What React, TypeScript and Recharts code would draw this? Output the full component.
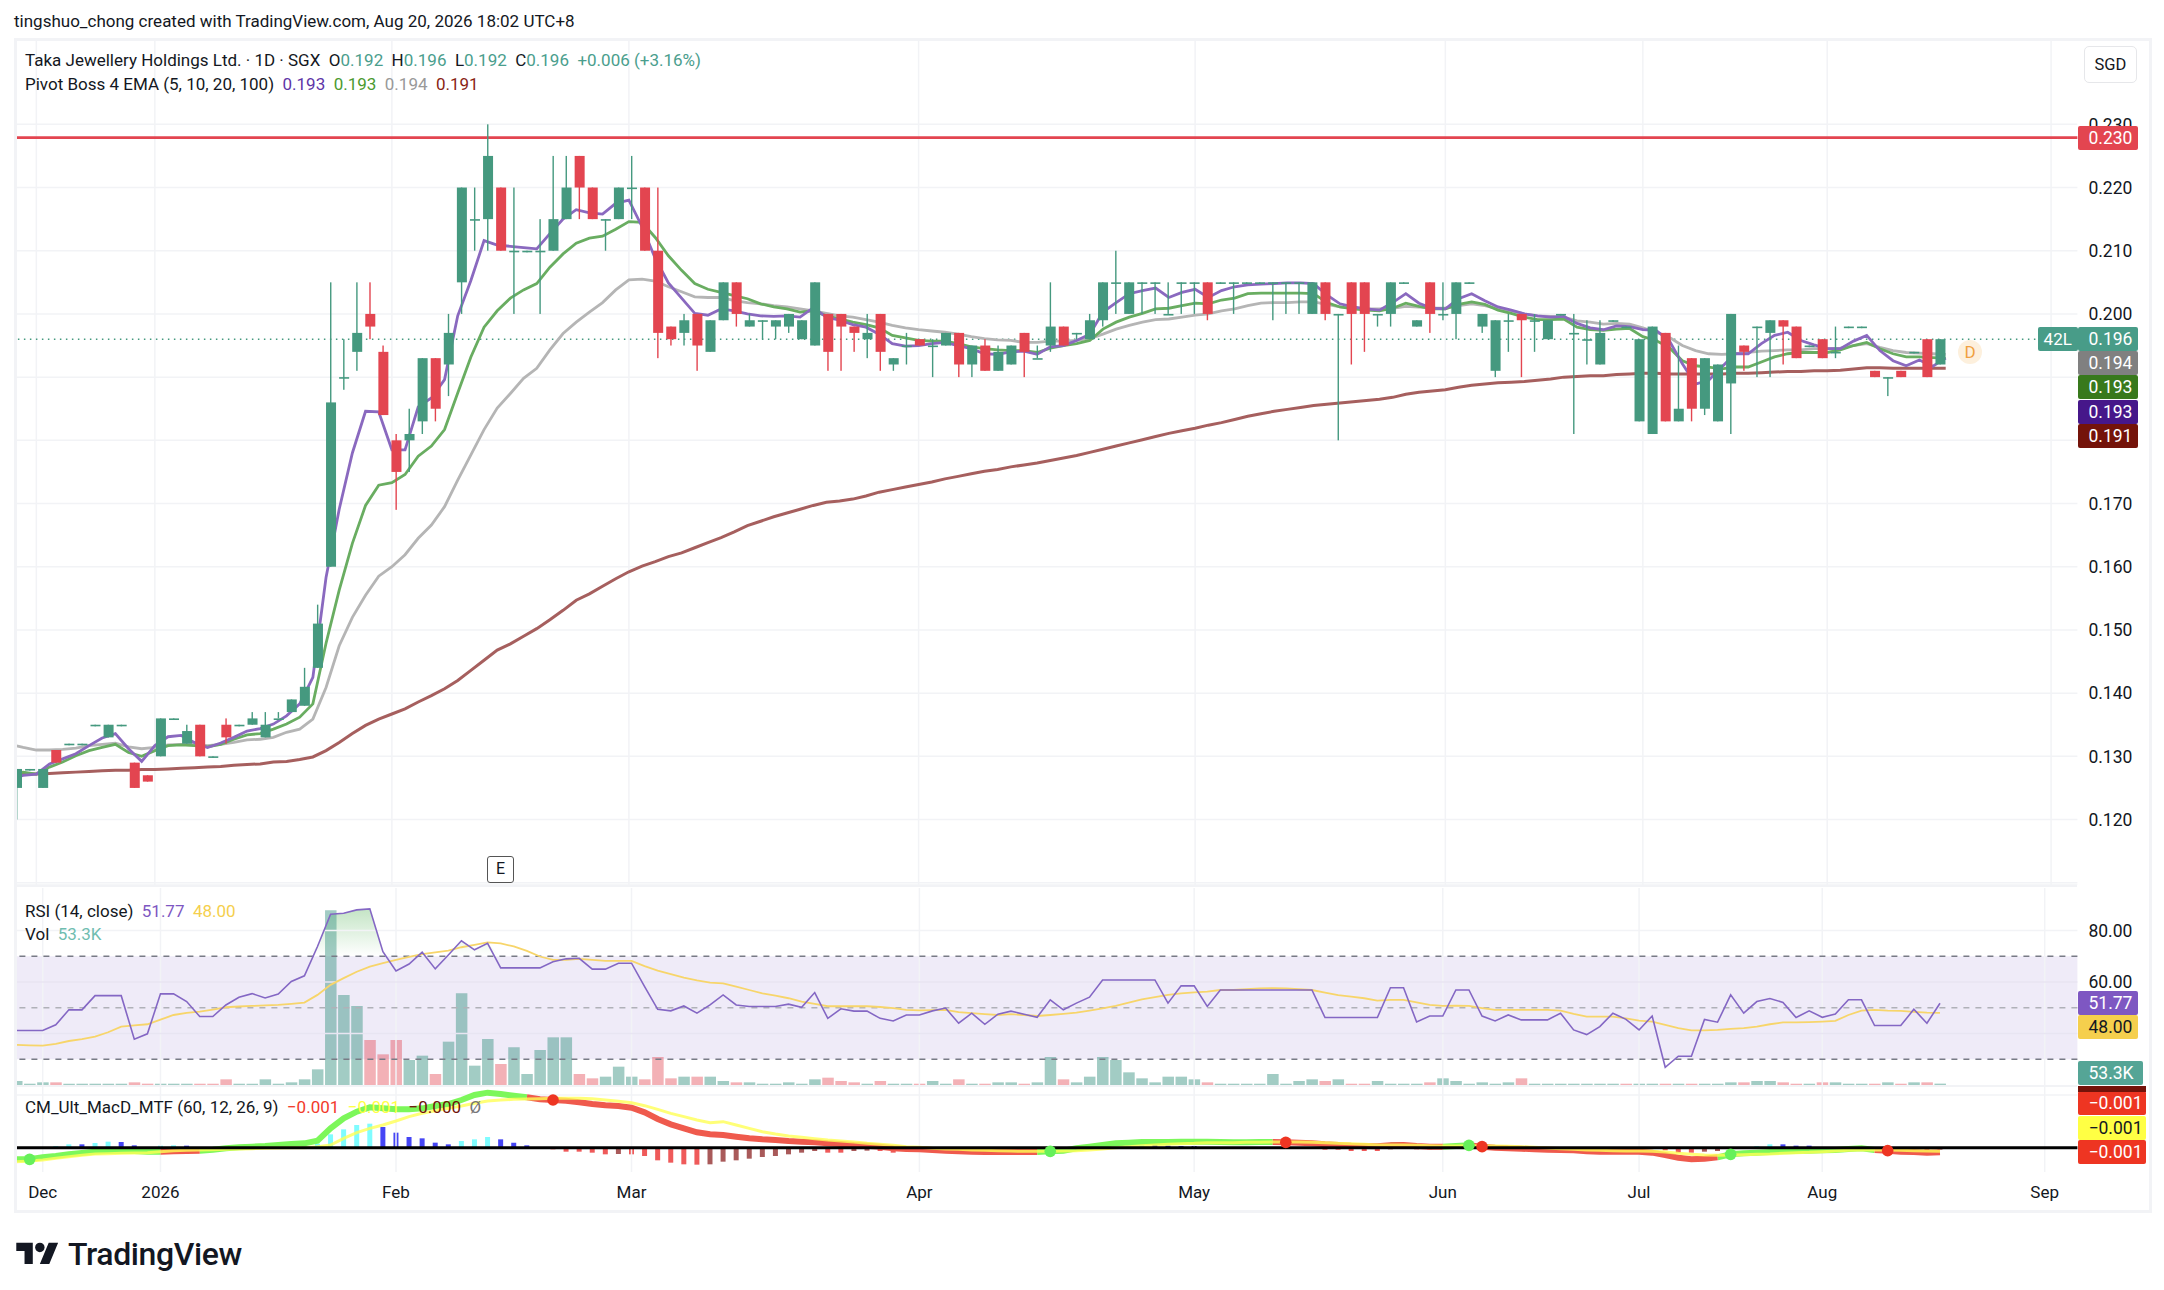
import React from 'react';
import {
  Area,
  Bar,
  CartesianGrid,
  Cell,
  ComposedChart,
  Line,
  ReferenceArea,
  ReferenceLine,
  XAxis,
  YAxis,
} from 'recharts';

// daily candles
const opens = [.125,.128,.125,.131,.132,.132,.135,.133,.135,.129,.127,.130,.136,.132,.135,.130,.135,.135,.135,.133,.136,.137,.138,.144,.160,.190,.194,.200,.194,.180,.180,.183,.193,.192,.205,.215,.215,.220,.210,.210,.210,.210,.215,.225,.220,.215,.215,.220,.220,.210,.198,.197,.200,.194,.199,.205,.198,.199,.198,.198,.196,.195,.200,.200,.198,.196,.200,.192,.195,.196,.195,.195,.197,.192,.195,.191,.192,.197,.193,.195,.198,.197,.196,.199,.205,.200,.205,.205,.200,.205,.205,.205,.205,.205,.205,.205,.205,.205,.205,.200,.205,.200,.205,.205,.200,.200,.205,.198,.205,.200,.200,.205,.198,.191,.199,.200,.199,.196,.200,.197,.196,.192,.199,.198,.183,.181,.197,.183,.193,.185,.183,.189,.195,.198,.197,.199,.198,.195,.196,.194,.198,.198,.191,.190,.191,.194,.196,.192];
const highs = [.128,.128,.128,.131,.132,.132,.135,.135,.135,.129,.127,.136,.136,.135,.135,.130,.136,.135,.137,.137,.137,.139,.144,.154,.205,.196,.205,.205,.195,.181,.185,.193,.193,.200,.220,.220,.230,.220,.220,.210,.215,.225,.225,.225,.220,.215,.220,.225,.220,.220,.198,.200,.200,.199,.205,.205,.200,.199,.199,.200,.199,.205,.200,.200,.198,.200,.200,.193,.197,.196,.196,.197,.197,.195,.196,.195,.195,.197,.195,.205,.198,.197,.200,.205,.210,.205,.205,.205,.205,.205,.205,.205,.205,.205,.205,.205,.205,.205,.205,.205,.205,.200,.205,.205,.200,.205,.205,.199,.205,.205,.205,.205,.200,.199,.200,.200,.200,.199,.200,.200,.199,.199,.199,.198,.196,.198,.197,.195,.193,.193,.192,.200,.195,.198,.199,.199,.198,.195,.196,.198,.198,.198,.191,.190,.191,.194,.196,.196];
const lows = [.120,.128,.125,.129,.132,.132,.135,.133,.135,.125,.126,.130,.136,.132,.130,.130,.132,.135,.135,.133,.136,.137,.138,.144,.160,.188,.191,.196,.184,.169,.175,.181,.183,.187,.200,.210,.210,.210,.200,.210,.200,.210,.215,.215,.215,.210,.215,.215,.210,.193,.195,.195,.191,.194,.199,.198,.198,.196,.196,.197,.196,.195,.191,.191,.194,.193,.191,.191,.192,.195,.190,.195,.190,.190,.191,.191,.192,.190,.193,.194,.195,.196,.196,.198,.200,.200,.200,.200,.200,.200,.200,.199,.205,.200,.205,.205,.199,.200,.200,.200,.199,.180,.192,.194,.198,.198,.205,.198,.197,.199,.196,.205,.197,.190,.194,.190,.194,.196,.200,.181,.192,.192,.199,.198,.183,.181,.183,.183,.183,.184,.183,.181,.191,.190,.190,.192,.193,.195,.193,.193,.198,.198,.190,.187,.190,.194,.190,.192];
const closes = [.128,.128,.128,.129,.132,.132,.135,.135,.135,.125,.126,.136,.136,.134,.130,.130,.133,.135,.136,.135,.136,.139,.141,.151,.186,.190,.197,.198,.184,.175,.181,.193,.185,.197,.220,.215,.225,.210,.210,.210,.210,.215,.220,.220,.215,.215,.220,.220,.210,.197,.196,.199,.195,.199,.205,.200,.199,.199,.199,.200,.199,.205,.194,.198,.197,.197,.194,.193,.195,.195,.195,.197,.192,.195,.191,.194,.195,.194,.193,.198,.195,.197,.199,.205,.205,.205,.205,.205,.200,.205,.205,.200,.205,.205,.205,.205,.205,.205,.205,.205,.200,.200,.200,.200,.200,.205,.205,.199,.200,.200,.205,.205,.200,.199,.199,.199,.199,.199,.200,.197,.196,.197,.199,.198,.196,.198,.183,.185,.185,.193,.192,.200,.194,.198,.199,.198,.193,.195,.193,.194,.198,.198,.190,.190,.190,.194,.190,.196];

const ema5 = [.1264,.127,.1272,.1288,.1296,.1304,.1317,.1329,.1336,.1312,.1292,.1317,.1331,.1333,.1322,.1314,.1321,.133,.134,.1344,.1351,.1364,.1383,.1425,.1583,.1691,.178,.1846,.1845,.1785,.1785,.1853,.1867,.1896,.1997,.2053,.2116,.2109,.2107,.2105,.2103,.2127,.215,.2165,.216,.2158,.2175,.218,.2138,.2088,.2049,.2025,.2001,.1998,.2008,.2005,.2,.1997,.1996,.1997,.1995,.201,.1995,.199,.1983,.1979,.1968,.1953,.1949,.195,.1953,.1955,.195,.1945,.1937,.1936,.194,.1941,.1936,.1948,.195,.1958,.1968,.2003,.2018,.2032,.2037,.2041,.2026,.2034,.2039,.2026,.2037,.2043,.2046,.2047,.2048,.2049,.2049,.2048,.203,.2016,.2011,.2008,.2006,.2018,.2032,.2017,.2009,.2008,.2024,.2032,.2021,.2011,.2006,.2,.1997,.1995,.1996,.1985,.1978,.1975,.1981,.198,.1975,.1974,.1958,.1921,.1889,.1895,.1916,.1937,.1937,.1953,.1966,.1971,.1958,.1951,.1945,.1945,.1957,.1966,.1942,.1926,.1918,.1927,.1917,.193];
const ema10 = [.1272,.1275,.1272,.1283,.1291,.1301,.1309,.1314,.1319,.1306,.13,.1309,.1317,.1318,.1317,.1315,.1319,.1327,.1334,.1336,.1343,.1351,.1362,.1383,.1479,.1563,.1637,.1697,.1729,.1733,.1746,.1775,.1791,.1817,.1875,.1932,.1979,.2005,.2025,.2038,.2048,.2074,.2095,.2112,.212,.2123,.2134,.2146,.2145,.2121,.2092,.2069,.2048,.2039,.2034,.2029,.2024,.2016,.2011,.2008,.2003,.2005,.1997,.1992,.1987,.1983,.1978,.1966,.1962,.1958,.1957,.1957,.1953,.1948,.1945,.1943,.1942,.1942,.1939,.1946,.195,.1953,.1958,.1976,.1987,.1995,.2001,.2008,.2009,.2013,.2017,.2016,.2022,.2025,.2032,.2033,.2033,.2033,.2033,.2032,.2018,.2011,.2008,.2006,.2005,.2009,.2017,.2012,.2008,.2008,.2015,.2019,.2015,.2006,.2001,.1995,.1991,.1991,.1992,.1979,.1975,.1974,.1976,.1977,.1964,.1958,.1947,.1926,.1918,.1916,.1913,.1916,.1916,.1924,.1932,.1937,.1939,.1939,.1939,.1943,.195,.1955,.1945,.1937,.1932,.1932,.1931,.193];
const ema20 = [.1319,.1314,.131,.131,.1311,.1313,.1317,.1319,.1321,.1315,.1312,.1314,.1318,.1319,.1319,.1317,.1319,.1322,.1326,.1327,.133,.1338,.1343,.1359,.1409,.1475,.152,.1555,.1585,.16,.1619,.1645,.1666,.1695,.1737,.1777,.1817,.1851,.1874,.1898,.1914,.1943,.1969,.1987,.2003,.2018,.2038,.2054,.2055,.2052,.2043,.2035,.2027,.2026,.2026,.2021,.2018,.2016,.2013,.2011,.2008,.2005,.2001,.1997,.1995,.1991,.1987,.1982,.1978,.1975,.1973,.1971,.1968,.1964,.1961,.1959,.1958,.1955,.1955,.1957,.1957,.1958,.1961,.1968,.1976,.1982,.1987,.1991,.1992,.1995,.1998,.2,.2005,.2008,.2013,.2017,.2018,.2018,.2019,.2019,.2015,.2011,.2009,.2008,.2008,.2009,.2012,.2011,.2009,.2009,.2013,.2016,.2013,.2008,.2005,.2,.1997,.1996,.1995,.1989,.1987,.1984,.1985,.1984,.1978,.1971,.1963,.195,.1942,.1937,.1936,.1937,.1939,.1941,.1942,.1943,.1943,.1945,.1945,.1946,.195,.1953,.1947,.1942,.1939,.1938,.1937,.1936];
const ema100 = [.1272,.1272,.1272,.1273,.1274,.1275,.1276,.1277,.1278,.1278,.1279,.1279,.128,.1281,.1282,.1283,.1284,.1286,.1287,.1288,.1291,.1292,.1295,.1299,.1309,.1322,.1336,.1349,.1359,.1367,.1375,.1386,.1396,.1407,.142,.1436,.1452,.1468,.1478,.149,.1502,.1516,.1531,.1547,.1557,.1569,.1581,.1592,.1601,.1608,.1616,.1622,.163,.1638,.1646,.1655,.1665,.1672,.1679,.1685,.1691,.1697,.1702,.1704,.1707,.1712,.1718,.1722,.1726,.173,.1734,.1739,.1743,.1747,.1751,.1754,.1758,.1761,.1764,.1768,.1772,.1776,.1781,.1786,.1791,.1796,.1801,.1806,.1811,.1815,.1819,.1824,.1828,.1833,.1838,.1842,.1846,.1849,.1852,.1855,.1857,.1859,.1861,.1863,.1865,.1868,.1873,.1876,.1878,.188,.1884,.1887,.1889,.1891,.1892,.1893,.1895,.1897,.19,.1901,.1902,.1902,.1904,.1905,.1906,.1906,.1905,.1905,.1905,.1905,.1905,.1906,.1906,.1907,.1908,.1909,.1909,.191,.191,.1911,.1913,.1915,.1915,.1914,.1914,.1914,.1914,.1914];

const rsi = [41.2,41.2,41.2,43.4,49.2,49.2,54.7,54.7,54.7,37.8,39.9,55.4,55.4,52.4,46.6,46.6,51.1,54.1,55.5,53.8,55.3,60.2,62.4,73.8,86.3,86.7,88,88.4,71.8,64.3,67,71.6,65.1,70.5,76,72.5,75,65.5,65.5,65.5,65.5,67.9,69,69.2,65,65,67.3,67.3,58.2,49.4,48.8,50.7,47.9,51.1,55,51.1,50.5,50.5,50.5,51.4,50.2,55.9,45.9,49.6,48.7,48.7,45.9,44.9,47.2,47.2,48.8,49.9,44,47.9,43.6,47.5,48.7,47.5,46.3,53.1,49.2,51.8,54.1,60.8,60.8,60.8,60.8,60.8,51.8,58.5,58.5,50.5,56.9,56.9,56.9,56.9,56.9,56.9,56.9,56.9,46.2,46.2,46.2,46.2,46.2,57.8,57.8,44.5,46.8,46.8,56.9,56.9,46.8,44.9,47.2,45.3,45.3,45.3,47.9,41.4,39.6,42.7,47.9,45.5,41.4,46.8,26.9,31.2,31.2,45.5,44.4,55,47.9,52.4,53.6,52.1,46.2,48.8,46.3,47.6,53.1,53.1,43.1,43.1,43.1,49.4,44,51.77];
const rsiMa = [35.6,35.4,35.3,36,37.1,37.8,38.8,40.5,42.7,43.2,43.6,45.4,47.2,48,48.5,49.3,50.2,50.5,50.7,50.9,51.1,51.5,52,55,58.9,61.5,64,66,67.3,68.6,69.8,70.8,71.5,72.2,73.5,74.4,75.4,75,73.8,72.1,69.9,68.6,68.6,69,68.6,68.2,68.2,68.2,66.2,64.4,63.1,61.7,60.6,59.8,59.5,58.2,56.9,55.6,54.7,53.7,52.4,51.5,50.6,50.6,50.6,50.6,50.3,49.9,49.2,49,49.1,49.2,48.3,47.9,47.5,47.2,47.5,47.2,46.8,47.2,47.6,48.1,48.9,49.8,50.7,52,53.3,54.1,55,55.6,56,56.3,56.9,56.9,57.2,57.5,57.6,57.5,57.2,56.9,55.9,54.9,54.3,53.7,52.8,53.1,53.1,52.1,51.1,50.7,50.8,50.7,49.9,49.2,49.2,49.2,49.2,49.2,48.9,47.6,46.6,46.6,46.6,45.9,45,44.6,43.4,42.1,41.2,41.2,41.4,41.8,42.1,42.7,43.6,44.3,44.3,44.4,44.6,44.9,47.2,48.9,49.2,48.9,48.8,48.4,48.1,48];

// volume in thousands
const volume = [156,50,104,104,50,50,50,50,50,104,52,50,50,50,50,50,221,50,50,221,50,104,221,611,6812,3510,3081,1755,1196,1755,975,1144,429,1690,3575,754,1794,819,1469,429,1365,1859,1859,429,260,325,715,325,221,1092,260,325,325,325,156,104,104,50,50,104,50,221,286,156,104,50,156,50,50,50,156,50,221,50,50,104,104,50,104,1092,221,104,325,1092,975,494,260,104,325,325,221,104,50,50,50,50,429,50,156,221,156,221,50,50,156,50,50,50,104,260,156,50,104,50,104,260,50,50,50,50,50,50,50,50,50,50,50,50,50,50,50,104,104,156,156,104,50,50,104,104,50,50,50,104,50,104,104,53.3];
const volumeDownBars = [3,9,10,14,15,16,27,28,29,32,37,43,44,48,49,50,52,55,62,63,64,66,69,72,74,77,80,91,100,102,103,108,115,123,126,128,132,135,136,138,142,144,146];

// MACD values in units of 0.0001
const macdLine = [-17.5,-17.5,-14.5,-12.5,-10,-8,-6,-5,-4.5,-5,-6,-6,-5.5,-5,-4.5,-3,-1,.5,1.5,2.5,4,5.5,6.5,10.5,29,44,54,60.5,59,57.5,57.5,59,62.5,65.5,71.5,79,82.5,80.5,78,75.5,72.5,71.5,70.5,68,65.5,63.5,62.5,60,53,43,35,29,23,20,19,16.5,14,12.5,11.5,10,9,8,6.5,5.5,4,3,1.5,-1,-2,-2.5,-3.5,-4.5,-5.5,-6,-6.5,-6.5,-6.5,-6.5,-6.5,-5.5,-4.5,-1,1.5,4,6.5,7.5,8.5,8.5,8.5,9,9,9,8.5,8,8,8.5,8.5,8,7.5,6.5,5,4,3,2.5,2,3.5,4,2.5,1.5,1.5,2.5,3.5,1.5,0,-1,-1.5,-2.5,-3,-3.5,-4,-5.5,-6,-6,-6,-6,-7.5,-11,-15,-17.5,-16.5,-14.5,-10,-8.5,-7.5,-6.5,-5.5,-5,-4.5,-4,-3.5,-2,-1,-3.5,-4.5,-6,-6.5,-7.5,-7];
const signalLine = [-21,-20,-18.5,-16,-13.5,-11.5,-9.5,-9,-8.5,-8,-7.5,-6,-4.5,-4,-3.5,-3,-2.5,-2,-1.5,-1,-.5,0,0,1.5,4,14,22.5,29,34,40,46.5,51.5,55.5,59,62.5,66.5,70,71.5,72.5,73,73.5,74,74,74,73.5,71.5,69.5,67.5,63,57.5,51.5,46.5,41.5,37.5,39,34,29,24,20.5,17.5,15.5,13.5,11.5,10,8.5,6.5,5,3.5,1.5,.5,-1,-2,-2.5,-3.5,-4,-4.5,-5,-5.5,-5.5,-5.5,-5,-4.5,-3.5,-2,0,1.5,3,4,5,6,6.5,7.5,7.5,7.5,8,8,8.5,8.5,8.5,8,7.5,6.5,6,5,4,4,4,3.5,3,2.5,2.5,3,3,2.5,2,1.5,.5,-.5,-1.5,-2.5,-3.5,-4,-4.5,-5,-5,-5.5,-6.5,-8.5,-10,-11,-11.5,-11,-10.5,-10,-9.5,-8.5,-7.5,-7,-6,-5,-4,-3.5,-3.5,-3.5,-4,-4.5,-5,-5.5];
const macdHist = [-2,0,0,2.5,5,5,7,9,8.5,3.5,0,3,3.5,3,0,0,0,0,0,3,0,0,2.5,6,20,27.5,34,36,31,22.5,16,14,7.5,5,10,12.5,16,12.5,7.5,3.5,0,-2.5,-6,-6,-7.5,-10,-9.5,-10,-12.5,-19,-22.5,-25,-25.5,-25,-21,-19,-16.5,-14,-12.5,-10,-7.5,-5,-7.5,-7.5,-5,-4.5,-5,-7.5,-5,-4.5,-3,-3,-2.5,-2.5,-2,-2,-1.5,-1,-1,0,0,0,0,1,2.5,4,5.5,5,3,2.5,2.5,0,0,0,0,0,0,0,0,0,-3,-3,-5,-5,-5,-2.5,0,-2.5,-2.5,-2,0,0,0,0,0,0,0,-5,-4,0,-5,-4,-3.5,0,0,0,-4,-7.5,-7.5,-6,-5,0,0,2.5,5,5,3,3,0,0,0,0,0,0,0,-2,-4,-3];
const crossUpBars = [1, 79, 111, 131];
const crossDownBars = [41, 97, 112, 143];

const priceTicks = [0.12, 0.13, 0.14, 0.15, 0.16, 0.17, 0.2, 0.21, 0.22, 0.23];
const hiddenPriceGrid = [0.11, 0.18, 0.19];
const rsiTicks = [80, 60];
const resistance = 0.2279;
const lastClose = 0.196;

const monthLabels = ['Dec', '2026', 'Feb', 'Mar', 'Apr', 'May', 'Jun', 'Jul', 'Aug', 'Sep'];
const monthBars = [2, 11, 29, 47, 69, 90, 109, 124, 138, 155];

const UP = '#45997f';
const DOWN = '#e34550';
const TEXT = '#131722';
const GRID = '#f2f3f6';
const SLOTS = 158; // bars plus the empty space to the right
const CHART_W = 2152;
const AXIS_W = 74.6;
const FONT = 'Roboto, sans-serif';
const TICK = { fill: TEXT, fontSize: 17.5 };

const rows = Array.from({ length: SLOTS }, (_, i) => {
  if (i >= opens.length) return { i };
  const up = macdLine[i] >= signalLine[i];
  const nextUp = i + 1 < macdLine.length ? macdLine[i + 1] >= signalLine[i + 1] : up;
  return {
    i,
    up: closes[i] >= opens[i],
    wick: [lows[i], highs[i]],
    body: [Math.min(opens[i], closes[i]), Math.max(opens[i], closes[i])],
    ema5: ema5[i],
    ema10: ema10[i],
    ema20: ema20[i],
    ema100: ema100[i],
    rsi: rsi[i],
    rsiMa: rsiMa[i],
    rsiHot: [70, Math.max(70, rsi[i])],
    volume: volume[i],
    macdUp: up || nextUp ? macdLine[i] : null,
    macdDown: !up || !nextUp ? macdLine[i] : null,
    signal: signalLine[i],
    hist: macdHist[i] === 0 ? null : macdHist[i],
    crossUp: crossUpBars.includes(i) ? macdLine[i] : null,
    crossDown: crossDownBars.includes(i) ? macdLine[i] : null,
  };
});

const priceBadges = [
  { text: '0.230', y: 138, bg: '#e34550', color: '#fff' },
  { text: '0.196', y: 339, bg: '#489c88', color: '#fff' },
  { text: '0.194', y: 363, bg: '#808080', color: '#fff' },
  { text: '0.193', y: 387, bg: '#38791c', color: '#fff' },
  { text: '0.193', y: 411.5, bg: '#46178a', color: '#fff' },
  { text: '0.191', y: 435.5, bg: '#74130a', color: '#fff' },
  { text: '51.77', y: 1003, bg: '#7e57c2', color: '#fff' },
  { text: '48.00', y: 1027, bg: '#f5cf4d', color: TEXT },
];
const lowerBadges = [
  { text: '53.3K', y: 1073, bg: '#55a596', color: '#fff', w: 65 },
  { text: '−0.001', y: 1103, bg: '#ee3522', color: '#fff', w: 68 },
  { text: '−0.001', y: 1127.5, bg: '#ffff44', color: TEXT, w: 68 },
  { text: '−0.001', y: 1151.5, bg: '#ee3522', color: '#fff', w: 68 },
];

const CandleRect = (props: any) => {
  const { x, y, width, height, payload } = props;
  return (
    <rect
      x={x}
      y={y}
      width={width}
      height={Math.max(height, 1.6)}
      fill={payload.up ? UP : DOWN}
    />
  );
};

const MonthLines = (xAxisId: string) =>
  monthBars.map((m) => (
    <ReferenceLine key={m} xAxisId={xAxisId} yAxisId="y" x={m} stroke={GRID} strokeWidth={1.5} />
  ));

const Badge = ({ text, y, bg, color, w = 60 }: any) => (
  <div
    style={{
      position: 'absolute',
      left: 2077.5,
      top: y - 12,
      width: w,
      height: 24,
      lineHeight: '24px',
      background: bg,
      color,
      fontSize: 17.5,
      paddingLeft: 11,
      boxSizing: 'border-box',
      borderRadius: 2,
    }}
  >
    {text}
  </div>
);

const TextLine = ({ top, children }: any) => (
  <div
    style={{
      position: 'absolute',
      left: 25,
      top: top - 10,
      height: 20,
      lineHeight: '20px',
      fontSize: 17,
      color: TEXT,
      whiteSpace: 'nowrap',
    }}
  >
    {children}
  </div>
);

const paneStyle = (top: number): React.CSSProperties => ({ position: 'absolute', left: 0, top });

const App = () => {
  return (
    <div
      style={{
        position: 'absolute',
        left: 0,
        top: 0,
        width: 2164,
        height: 1290,
        background: '#fff',
        fontFamily: FONT,
        overflow: 'hidden',
      }}
    >
      <div style={{ position: 'absolute', left: 14, top: 11, fontSize: 17, color: TEXT, whiteSpace: 'nowrap' }}>
        tingshuo_chong created with TradingView.com, Aug 20, 2026 18:02 UTC+8
      </div>

      {/* price pane: grid and moving averages */}
      <div style={paneStyle(38)}>
        <ComposedChart
          width={CHART_W}
          height={847}
          data={rows}
          margin={{ top: 0, right: 0, bottom: 0, left: 10 }}
        >
          <XAxis dataKey="i" type="category" hide />
          <YAxis
            yAxisId="y"
            orientation="right"
            width={AXIS_W}
            domain={[0.10964, 0.24366]}
            ticks={priceTicks}
            interval={0}
            tickFormatter={(v: number) => v.toFixed(3)}
            tick={TICK}
            tickLine={false}
            axisLine={false}
            tickMargin={5}
          />
          <CartesianGrid yAxisId="y" vertical={false} stroke={GRID} strokeWidth={1.5} />
          {MonthLines('0')}
          {hiddenPriceGrid.map((p) => (
            <ReferenceLine key={p} yAxisId="y" y={p} stroke={GRID} strokeWidth={1.5} />
          ))}
          <ReferenceLine yAxisId="y" y={lastClose} stroke={UP} strokeWidth={1.5} strokeDasharray="1.5 4.5" />
          <ReferenceLine yAxisId="y" y={resistance} stroke={DOWN} strokeWidth={2.6} />
          <Line yAxisId="y" dataKey="ema100" stroke="#a65f5e" strokeWidth={3} dot={false} isAnimationActive={false} />
          <Line yAxisId="y" dataKey="ema20" stroke="#b5b5b5" strokeWidth={2.8} dot={false} isAnimationActive={false} />
          <Line yAxisId="y" dataKey="ema10" stroke="#69ad61" strokeWidth={2.8} dot={false} isAnimationActive={false} />
          <Line yAxisId="y" dataKey="ema5" stroke="#8a69bf" strokeWidth={2.8} dot={false} isAnimationActive={false} />
        </ComposedChart>
      </div>

      {/* price pane: candles layered over the lines */}
      <div style={paneStyle(38)}>
        <ComposedChart
          width={CHART_W}
          height={847}
          data={rows}
          margin={{ top: 0, right: AXIS_W, bottom: 0, left: 10 }}
        >
          <XAxis dataKey="i" xAxisId="wick" type="category" hide />
          <XAxis dataKey="i" xAxisId="body" type="category" hide />
          <YAxis yAxisId="y" hide domain={[0.10964, 0.24366]} />
          <Bar xAxisId="wick" yAxisId="y" dataKey="wick" barSize={1.4} shape={CandleRect} isAnimationActive={false} />
          <Bar xAxisId="body" yAxisId="y" dataKey="body" barSize={10} shape={CandleRect} isAnimationActive={false} />
        </ComposedChart>
      </div>

      {/* RSI and volume pane */}
      <div style={paneStyle(888)}>
        <ComposedChart
          width={CHART_W}
          height={197}
          data={rows}
          margin={{ top: 0, right: 0, bottom: 0, left: 10 }}
        >
          <defs>
            <linearGradient id="rsiHot" x1="0" y1="0" x2="0" y2="1">
              <stop offset="0%" stopColor="#4caf50" stopOpacity={0.55} />
              <stop offset="100%" stopColor="#4caf50" stopOpacity={0} />
            </linearGradient>
          </defs>
          <XAxis dataKey="i" type="category" hide />
          <YAxis
            yAxisId="y"
            orientation="right"
            width={AXIS_W}
            domain={[20.02, 96.5]}
            ticks={rsiTicks}
            interval={0}
            tickFormatter={(v: number) => v.toFixed(2)}
            tick={TICK}
            tickLine={false}
            axisLine={false}
            tickMargin={5}
          />
          <YAxis yAxisId="vol" hide domain={[0, 7683]} />
          {MonthLines('0')}
          <ReferenceLine yAxisId="y" y={80} stroke={GRID} strokeWidth={1.5} />
          <ReferenceArea yAxisId="y" y1={30} y2={70} fill="#7e57c2" fillOpacity={0.12} stroke="none" />
          <ReferenceLine yAxisId="y" y={60} stroke="#e8e5f2" strokeWidth={1.5} />
          <ReferenceLine yAxisId="y" y={40} stroke="#e8e5f2" strokeWidth={1.5} />
          <ReferenceLine yAxisId="y" y={70} stroke="#787b86" strokeWidth={1.5} strokeDasharray="6 6" />
          <ReferenceLine yAxisId="y" y={50} stroke="#b0b1b8" strokeWidth={1.5} strokeDasharray="6 6" />
          <ReferenceLine yAxisId="y" y={30} stroke="#787b86" strokeWidth={1.5} strokeDasharray="6 6" />
          <Bar yAxisId="vol" dataKey="volume" barSize={11.5} isAnimationActive={false}>
            {rows.map((r) => (
              <Cell
                key={r.i}
                fill={volumeDownBars.includes(r.i) ? 'rgba(227,69,80,.42)' : 'rgba(69,153,137,.5)'}
              />
            ))}
          </Bar>
          <Area yAxisId="y" dataKey="rsiHot" fill="url(#rsiHot)" stroke="none" dot={false} isAnimationActive={false} />
          <Line yAxisId="y" dataKey="rsiMa" stroke="#f7d56a" strokeWidth={1.8} dot={false} isAnimationActive={false} />
          <Line yAxisId="y" dataKey="rsi" stroke="#8467c4" strokeWidth={1.6} dot={false} isAnimationActive={false} />
        </ComposedChart>
      </div>

      {/* MACD pane with the time axis below it */}
      <div style={paneStyle(1086)}>
        <ComposedChart
          width={CHART_W}
          height={124}
          data={rows}
          margin={{ top: 0, right: AXIS_W, bottom: 0, left: 10 }}
        >
          <XAxis
            dataKey="i"
            type="category"
            ticks={monthBars}
            interval={0}
            height={38}
            tickFormatter={(v: number) => monthLabels[monthBars.indexOf(v)]}
            tick={{ fill: TEXT, fontSize: 17 }}
            tickLine={false}
            axisLine={false}
            tickMargin={8}
          />
          <YAxis yAxisId="y" hide domain={[-36.5, 92.5]} />
          {MonthLines('0')}
          <ReferenceLine yAxisId="y" y={79} stroke={GRID} strokeWidth={1.5} />
          <Bar yAxisId="y" dataKey="hist" barSize={5} isAnimationActive={false}>
            {rows.map((r: any) => {
              const v = r.hist ?? 0;
              const prev = r.i > 0 ? macdHist[r.i - 1] ?? 0 : 0;
              const fill = v >= 0 ? (v > prev ? '#7ffcff' : '#4545f5') : v <= prev ? '#ef5a5a' : '#a95a5a';
              return <Cell key={r.i} fill={fill} />;
            })}
          </Bar>
          <Line yAxisId="y" dataKey="macdUp" stroke="#7cf75a" strokeWidth={6} dot={false} isAnimationActive={false} />
          <Line yAxisId="y" dataKey="macdDown" stroke="#ef5a4d" strokeWidth={6} dot={false} isAnimationActive={false} />
          <Line yAxisId="y" dataKey="signal" stroke="#ffff55" strokeOpacity={0.8} strokeWidth={3} dot={false} isAnimationActive={false} />
          <ReferenceLine yAxisId="y" y={0} stroke="#000" strokeWidth={3} />
          <Line yAxisId="y" dataKey="crossUp" stroke="none" dot={{ r: 5.8, fill: '#66f05a', stroke: 'none' }} isAnimationActive={false} />
          <Line yAxisId="y" dataKey="crossDown" stroke="none" dot={{ r: 5.8, fill: '#ee3522', stroke: 'none' }} isAnimationActive={false} />
        </ComposedChart>
      </div>

      {/* frame and the mask that clips the first candle */}
      <div style={{ position: 'absolute', left: 0, top: 38, width: 14, height: 1175, background: '#fff' }} />
      <div style={{ position: 'absolute', left: 14, top: 885, width: 2063, height: 2, background: GRID }} />
      <div style={{ position: 'absolute', left: 14, top: 1085, width: 2063, height: 2, background: GRID }} />
      <div
        style={{
          position: 'absolute',
          left: 14,
          top: 38,
          width: 2138,
          height: 1175,
          boxSizing: 'border-box',
          border: `3px solid ${GRID}`,
        }}
      />

      {/* legends */}
      <TextLine top={60}>
        Taka Jewellery Holdings Ltd. · 1D · SGX&nbsp;&nbsp;O<span style={{ color: '#4a9e8d' }}>0.192</span>&nbsp;&nbsp;H
        <span style={{ color: '#4a9e8d' }}>0.196</span>&nbsp;&nbsp;L<span style={{ color: '#4a9e8d' }}>0.192</span>&nbsp;&nbsp;C
        <span style={{ color: '#4a9e8d' }}>0.196</span>&nbsp;&nbsp;<span style={{ color: '#4a9e8d' }}>+0.006 (+3.16%)</span>
      </TextLine>
      <TextLine top={84}>
        Pivot Boss 4 EMA (5, 10, 20, 100)&nbsp;&nbsp;<span style={{ color: '#5e35a8' }}>0.193</span>&nbsp;&nbsp;
        <span style={{ color: '#4b9a30' }}>0.193</span>&nbsp;&nbsp;<span style={{ color: '#999' }}>0.194</span>&nbsp;&nbsp;
        <span style={{ color: '#8a1f14' }}>0.191</span>
      </TextLine>
      <TextLine top={911}>
        RSI (14, close)&nbsp;&nbsp;<span style={{ color: '#7e57c2' }}>51.77</span>&nbsp;&nbsp;
        <span style={{ color: '#f5cf4d' }}>48.00</span>
      </TextLine>
      <TextLine top={934}>
        Vol&nbsp;&nbsp;<span style={{ color: '#6fbdb0' }}>53.3K</span>
      </TextLine>
      <TextLine top={1107}>
        CM_Ult_MacD_MTF (60, 12, 26, 9)&nbsp;&nbsp;<span style={{ color: '#f23a2a' }}>−0.001</span>&nbsp;&nbsp;
        <span style={{ color: '#ffff44' }}>−0.001</span>&nbsp;&nbsp;<span style={{ color: '#6e1208' }}>−0.000</span>&nbsp;&nbsp;
        <span style={{ color: '#777' }}>Ø</span>
      </TextLine>

      {/* price scale badges */}
      {priceBadges.map((b, k) => (
        <Badge key={k} {...b} />
      ))}
      {lowerBadges.map((b, k) => (
        <Badge key={k} {...b} />
      ))}
      <div style={{ position: 'absolute', left: 2077.5, top: 1086, width: 68, height: 6, background: '#74130a' }} />
      <div
        style={{
          position: 'absolute',
          left: 2038,
          top: 327,
          width: 39.5,
          height: 24,
          lineHeight: '24px',
          textAlign: 'center',
          background: '#489c88',
          color: '#fff',
          fontSize: 17,
          borderRadius: 2,
        }}
      >
        42L
      </div>

      {/* SGD button, dividend and earnings markers */}
      <div
        style={{
          position: 'absolute',
          left: 2084,
          top: 46,
          width: 53,
          height: 37,
          lineHeight: '35px',
          boxSizing: 'border-box',
          border: '1px solid #e6e7ea',
          borderRadius: 5,
          textAlign: 'center',
          fontSize: 16.5,
          color: TEXT,
        }}
      >
        SGD
      </div>
      <div
        style={{
          position: 'absolute',
          left: 1958,
          top: 340,
          width: 24,
          height: 24,
          lineHeight: '24px',
          borderRadius: 12,
          background: '#fdf0dd',
          color: '#f0a040',
          fontSize: 17,
          textAlign: 'center',
        }}
      >
        D
      </div>
      <div
        style={{
          position: 'absolute',
          left: 487,
          top: 856,
          width: 27,
          height: 27,
          lineHeight: '24px',
          boxSizing: 'border-box',
          border: '1.5px solid #555',
          borderRadius: 3,
          background: '#fff',
          textAlign: 'center',
          fontSize: 16,
          color: TEXT,
        }}
      >
        E
      </div>

      {/* TradingView logo */}
      <svg style={{ position: 'absolute', left: 16, top: 1238 }} width={43} height={33} viewBox="0 0 36 28">
        <path d="M14 22H7V11H0V4h14v18zM28 22h-8l7.5-18h8L28 22z" fill="#131722" />
        <circle cx="20" cy="8" r="4" fill="#131722" />
      </svg>
      <div
        style={{
          position: 'absolute',
          left: 68,
          top: 1235,
          fontSize: 32,
          fontWeight: 500,
          color: TEXT,
          letterSpacing: -0.4,
          whiteSpace: 'nowrap',
        }}
      >
        TradingView
      </div>
    </div>
  );
};

export default App;
